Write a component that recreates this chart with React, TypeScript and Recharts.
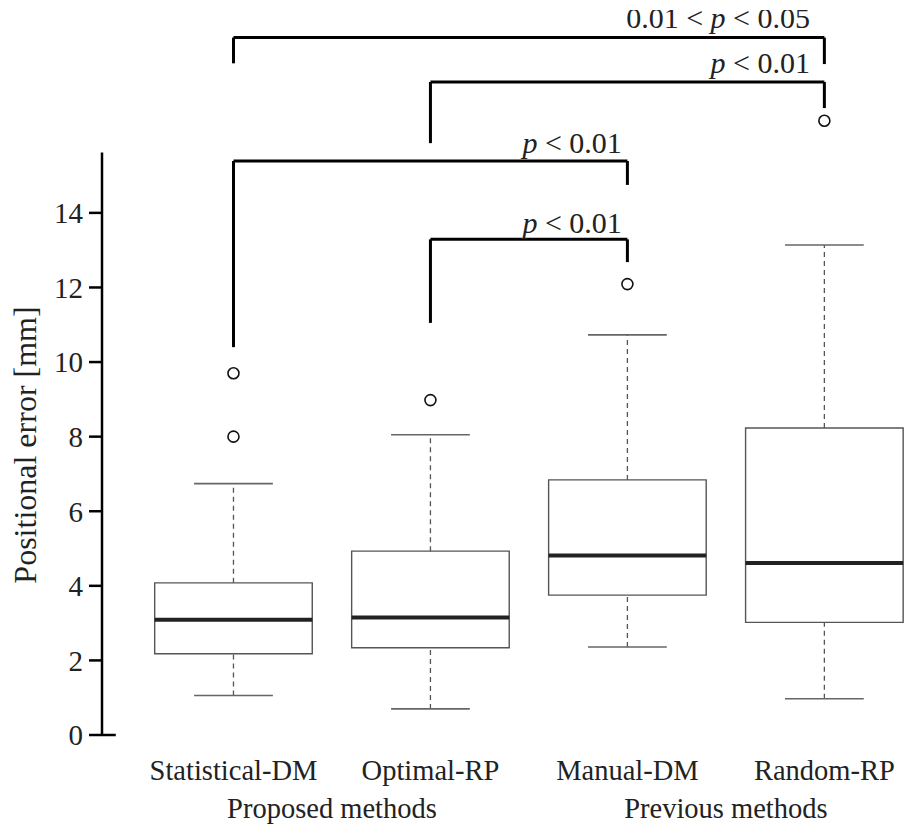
import { ComposedChart, ReferenceArea, ReferenceLine, Scatter, XAxis, YAxis } from "recharts"

// box plot stats (mm)
const categories = ["Statistical-DM", "Optimal-RP", "Manual-DM", "Random-RP"]
const groups = ["Proposed methods", "Previous methods"]
const groupPos = [1.5, 3.5]
const whiskerLow = [1.06, 0.7, 2.36, 0.97]
const q1 = [2.18, 2.34, 3.75, 3.02]
const median = [3.09, 3.15, 4.81, 4.61]
const q3 = [4.08, 4.93, 6.84, 8.23]
const whiskerHigh = [6.74, 8.05, 10.73, 13.14]
const outliers = [[8.0, 9.7], [8.98], [12.09], [16.47]]
const yTicks = [0, 2, 4, 6, 8, 10, 12, 14]

// significance brackets: from/to category, bar height, leg ends
const brackets = [
  { from: 1, to: 4, top: 18.7, leftEnd: 18.01, rightEnd: 17.99 },
  { from: 2, to: 4, top: 17.51, leftEnd: 15.87, rightEnd: 16.81 },
  { from: 1, to: 3, top: 15.39, leftEnd: 10.4, rightEnd: 14.75 },
  { from: 2, to: 3, top: 13.29, leftEnd: 11.05, rightEnd: 12.68 },
]
const bracketLabels = [
  { x: 3.927, y: 18.96, pre: "0.01 < ", post: " < 0.05" },
  { x: 3.927, y: 17.75, pre: "", post: " < 0.01" },
  { x: 2.972, y: 15.61, pre: "", post: " < 0.01" },
  { x: 2.972, y: 13.46, pre: "", post: " < 0.01" },
]

const X_MIN = 0.3325
const X_MAX = 4.45
const Y_MAX = 19.44
const AXIS_TOP = 15.62
const FONT = "'Liberation Serif', 'Times New Roman', serif"
const BOX_HALF = 0.4
const CAP_HALF = 0.2

const outlierPoints = outliers.flatMap((vals, i) => vals.map((y) => ({ x: i + 1, y })))
const labelPoints = bracketLabels.map((l) => ({ ...l }))
const groupPoints = groupPos.map((x) => ({ x, y: 0 }))

const CategoryTick = (props: any) => {
  const { x, y, payload } = props
  return (
    <text x={x} y={y + 45} textAnchor="middle" fontFamily={FONT} fontSize={28.5} fill="#222">
      {categories[payload.value - 1]}
    </text>
  )
}

const GroupTick = (props: any) => {
  const { x, y, payload } = props
  const idx = groupPos.indexOf(payload.value)
  return (
    <text x={x} y={y + 33} textAnchor="middle" fontFamily={FONT} fontSize={28.5} fill="#222">
      {groups[idx]}
    </text>
  )
}

const PLabel = (props: any) => {
  const { cx, cy, payload } = props
  return (
    <text x={cx} y={cy} textAnchor="end" fontFamily={FONT} fontSize={30} fill="#222">
      {payload.pre}
      <tspan fontStyle="italic">p</tspan>
      {payload.post}
    </text>
  )
}

const Outlier = (props: any) => {
  const { cx, cy } = props
  return <circle cx={cx} cy={cy} r={5.5} fill="#fff" stroke="#111" strokeWidth={1.6} />
}

export default function App() {
  return (
    <div style={{ position: "absolute", left: 0, top: 0, background: "#fff" }}>
      <ComposedChart width={916} height={828} margin={{ top: 10, right: 3, bottom: 0, left: 0 }}>
        <XAxis
          type="number"
          dataKey="x"
          domain={[X_MIN, X_MAX]}
          allowDataOverflow
          ticks={[1, 2, 3, 4]}
          axisLine={false}
          tickLine={false}
          tickSize={0}
          tickMargin={0}
          height={50}
          tick={<CategoryTick />}
        />
        <XAxis
          xAxisId="group"
          type="number"
          dataKey="x"
          domain={[X_MIN, X_MAX]}
          allowDataOverflow
          ticks={groupPos}
          axisLine={false}
          tickLine={false}
          tickSize={0}
          tickMargin={0}
          height={43}
          tick={<GroupTick />}
        />
        <YAxis
          type="number"
          dataKey="y"
          domain={[0, Y_MAX]}
          allowDataOverflow
          ticks={yTicks}
          width={102}
          axisLine={false}
          tickLine={{ stroke: "#000", strokeWidth: 2.5 }}
          tickSize={13}
          tickMargin={6}
          tick={{ fontFamily: FONT, fontSize: 29, fill: "#222" }}
          label={{
            content: () => (
              <text
                x={25}
                y={445}
                transform="rotate(-90 25 445)"
                textAnchor="middle"
                dominantBaseline="central"
                fontFamily={FONT}
                fontSize={32}
                fill="#222"
              >
                Positional error [mm]
              </text>
            ),
          }}
        />

        {/* left axis line, only up to ~15.6 */}
        <ReferenceLine
          segment={[{ x: X_MIN, y: 0 }, { x: X_MIN, y: AXIS_TOP }]}
          stroke="#000"
          strokeWidth={2.5}
        />
        <ReferenceLine
          segment={[{ x: X_MIN, y: 0 }, { x: X_MIN + 0.07, y: 0 }]}
          stroke="#000"
          strokeWidth={2.5}
        />

        {categories.map((c, i) => {
          const x = i + 1
          return [
            <ReferenceLine
              key={`wl-${c}`}
              segment={[{ x, y: whiskerLow[i] }, { x, y: q1[i] }]}
              stroke="#555"
              strokeWidth={1.3}
              strokeDasharray="5 4"
            />,
            <ReferenceLine
              key={`wh-${c}`}
              segment={[{ x, y: q3[i] }, { x, y: whiskerHigh[i] }]}
              stroke="#555"
              strokeWidth={1.3}
              strokeDasharray="5 4"
            />,
            <ReferenceLine
              key={`cl-${c}`}
              segment={[{ x: x - CAP_HALF, y: whiskerLow[i] }, { x: x + CAP_HALF, y: whiskerLow[i] }]}
              stroke="#666"
              strokeWidth={1.6}
            />,
            <ReferenceLine
              key={`ch-${c}`}
              segment={[{ x: x - CAP_HALF, y: whiskerHigh[i] }, { x: x + CAP_HALF, y: whiskerHigh[i] }]}
              stroke="#666"
              strokeWidth={1.6}
            />,
            <ReferenceArea
              key={`box-${c}`}
              x1={x - BOX_HALF}
              x2={x + BOX_HALF}
              y1={q1[i]}
              y2={q3[i]}
              fill="#fff"
              fillOpacity={1}
              stroke="#555"
              strokeWidth={1.4}
            />,
            <ReferenceLine
              key={`md-${c}`}
              segment={[{ x: x - BOX_HALF, y: median[i] }, { x: x + BOX_HALF, y: median[i] }]}
              stroke="#222"
              strokeWidth={4}
            />,
          ]
        })}

        {brackets.map((b, i) => [
          <ReferenceLine
            key={`bt-${i}`}
            segment={[{ x: b.from, y: b.top }, { x: b.to, y: b.top }]}
            stroke="#000"
            strokeWidth={3}
          />,
          <ReferenceLine
            key={`bl-${i}`}
            segment={[{ x: b.from, y: b.top }, { x: b.from, y: b.leftEnd }]}
            stroke="#000"
            strokeWidth={3}
          />,
          <ReferenceLine
            key={`br-${i}`}
            segment={[{ x: b.to, y: b.top }, { x: b.to, y: b.rightEnd }]}
            stroke="#000"
            strokeWidth={3}
          />,
        ])}

        <Scatter data={outlierPoints} shape={<Outlier />} isAnimationActive={false} />
        <Scatter data={labelPoints} shape={<PLabel />} isAnimationActive={false} />
        <Scatter xAxisId="group" data={groupPoints} shape={() => <g />} isAnimationActive={false} />
      </ComposedChart>
    </div>
  )
}
